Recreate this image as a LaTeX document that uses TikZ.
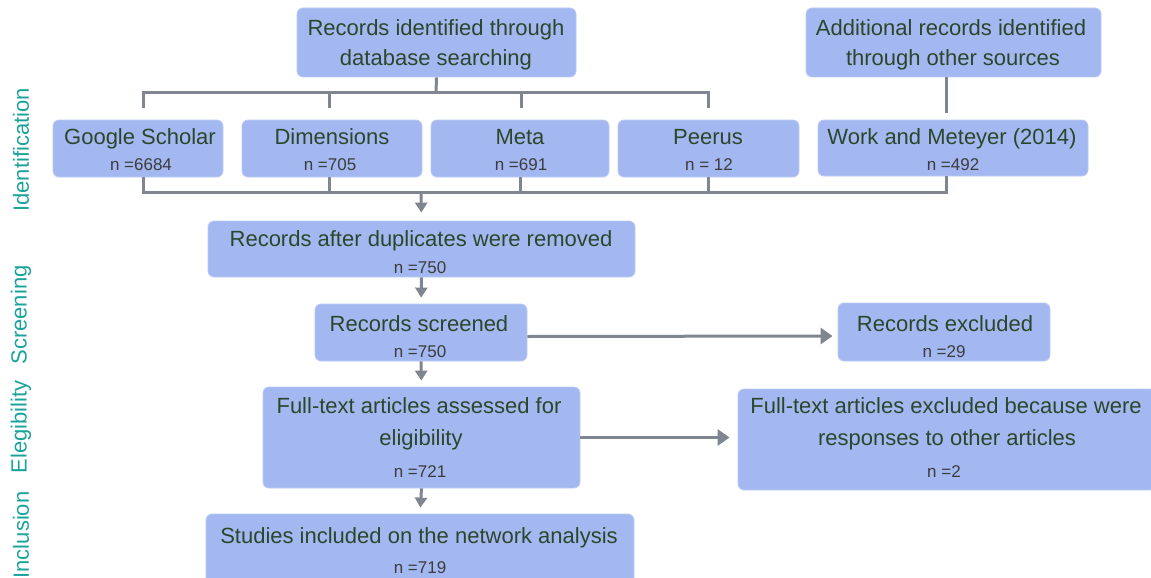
\documentclass[tikz,border=0pt]{standalone}
\usepackage{fontspec}
\setmainfont{Liberation Sans}
\usetikzlibrary{arrows.meta}
\definecolor{boxfill}{HTML}{A3B8F1}
\definecolor{boxline}{HTML}{BCCBF5}
\definecolor{linec}{HTML}{7F8591}
\definecolor{txt}{HTML}{2B472B}
\definecolor{ntxt}{HTML}{3C3C3C}
\definecolor{teal2}{HTML}{1AA39B}
\newcommand\mybox[5]{\node[box, minimum width={(#4-#2)*1pt}, minimum height={(#5-#3)*1pt}] (#1) at ({(#2+#4)/2},{(#3+#5)/2}) {};}
\begin{document}
\begin{tikzpicture}[x=1pt,y=-1pt,
  box/.style={rectangle, rounded corners=6pt, fill=boxfill, draw=boxline, line width=0.8pt, inner sep=0pt},
  conn/.style={draw=linec, line width=3pt},
  arr/.style={conn, -{Triangle[length=10pt,width=12pt]}},
  harr/.style={conn, -{Triangle[length=12pt,width=16pt]}},
  tt/.style={anchor=base, text=txt, font=\fontsize{22}{26}\selectfont, inner sep=0pt},
  nt/.style={anchor=base, text=ntxt, font=\fontsize{17}{20}\selectfont, inner sep=0pt},
  side/.style={rotate=90, text=teal2, font=\fontsize{22}{26}\selectfont, inner sep=0pt, anchor=center}]
\useasboundingbox (0,0) rectangle (1151,578);
% boxes
\mybox{db}{297}{8}{576}{77}
\mybox{add}{806}{8}{1101}{77}
\mybox{gs}{53}{120}{223}{177}
\mybox{dim}{242}{120}{422}{177}
\mybox{meta}{431}{120}{609}{177}
\mybox{peer}{618}{120}{799}{177}
\mybox{work}{818}{120}{1088}{176}
\mybox{dup}{208}{221}{635}{277}
\mybox{scr}{315}{304}{527}{361}
\mybox{rex}{838}{303}{1050}{361}
\mybox{ft}{263}{387}{580}{488}
\mybox{fte}{738}{389}{1156}{490}
\mybox{stu}{206}{514}{634}{590}
% texts
\node[tt] (db1) at (436,36) {Records identified through};
\node[tt] (db2) at (436,66) {database searching};
\node[tt] (add1) at (951,36) {Additional records identified};
\node[tt] (add2) at (953,66) {through other sources};
\node[tt] (gs1) at (140,144) {Google Scholar};
\node[nt] (gs2) at (141,170) {n =6684};
\node[tt] (dim1) at (332,144) {Dimensions};
\node[nt] (dim2) at (330,170) {n =705};
\node[tt] (meta1) at (520,144) {Meta};
\node[nt] (meta2) at (521,170) {n =691};
\node[tt] (peer1) at (708,144) {Peerus};
\node[nt] (peer2) at (709,170) {n = 12};
\node[tt] (work1) at (952,144) {Work and Meteyer (2014)};
\node[nt] (work2) at (953,170) {n =492};
\node[tt] (dup1) at (421,246) {Records after duplicates were removed};
\node[nt] (dup2) at (420,273) {n =750};
\node[tt] (scr1) at (419,331) {Records screened};
\node[nt] (scr2) at (420,357) {n =750};
\node[tt] (rex1) at (945,331) {Records excluded};
\node[nt] (rex2) at (944,357) {n =29};
\node[tt] (ft1) at (419,413) {Full-text articles assessed for};
\node[tt] (ft2) at (421,445) {eligibility};
\node[nt] (ft3) at (420,477) {n =721};
\node[tt] (fte1) at (946,413) {Full-text articles excluded because were};
\node[tt] (fte2) at (947,445) {responses to other articles};
\node[nt] (fte3) at (944,477) {n =2};
\node[tt] (stu1) at (419,543) {Studies included on the network analysis};
\node[nt] (stu2) at (420,573) {n =719};
% side labels
\node[side] (s1) at (21,150) {Identification};
\node[side] (s2) at (21,315) {Screening};
\node[side] (s3) at (21,427) {Elegibility};
\node[side] (s4) at (21,535) {Inclusion};
% fan out from database searching
\coordinate (top) at (436,93);
\draw[conn] (db.south) -- (top);
\draw[conn] ([xshift=5pt,yshift=12pt]gs.north) |- ([xshift=-0.5pt,yshift=27pt]peer.north) -- ([xshift=-0.5pt,yshift=12pt]peer.north);
\draw[conn] ([xshift=-3pt,yshift=12pt]dim.north) -- ++(0,-15);
\draw[conn] ([xshift=1pt,yshift=12pt]meta.north) -- ++(0,-15);
\coordinate (wk) at ([xshift=-7pt,yshift=7pt]work.north);
\draw[conn] (wk |- add.south) -- (wk);
% fan in
\coordinate (bot) at (421,193);
\draw[conn] ([xshift=5pt]gs.south) |- ([xshift=-7pt,yshift=-16pt]work.south) -- ([xshift=-7pt]work.south);
\draw[conn] ([xshift=-3pt]dim.south) -- ++(0,16);
\draw[conn] (meta.south) -- ++(0,16);
\draw[conn] ([xshift=-0.5pt]peer.south) -- ++(0,16);
\draw[arr, shorten >=8pt] (bot) -- (dup.north);
\draw[arr, shorten >=6pt] (dup.south) -- (scr.north);
\draw[arr, shorten >=6pt] (scr.south) -- (ft.north);
\draw[arr, shorten >=6pt] (ft.south) -- (stu.north);
\draw[harr, shorten >=5pt] ([yshift=-4pt]scr.east) -- ([yshift=-4pt]rex.west);
\draw[harr, shorten >=8pt] (ft.east) -- (ft.east -| fte.west);
\end{tikzpicture}
\end{document}
